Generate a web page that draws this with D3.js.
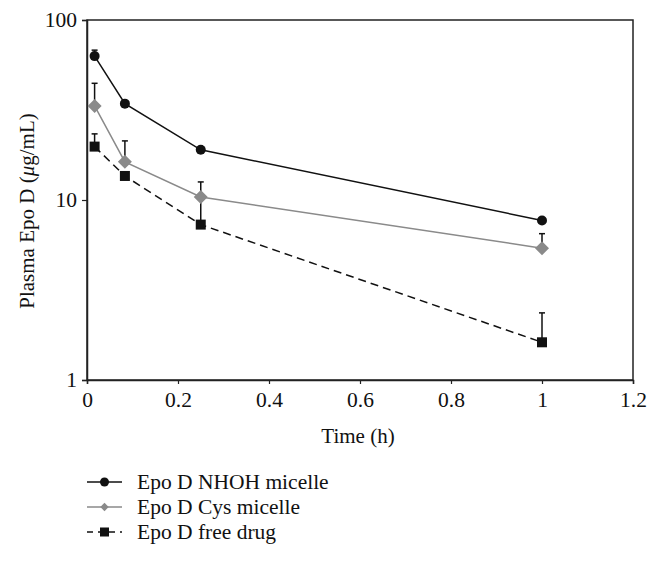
<!DOCTYPE html>
<html>
<head>
<meta charset="utf-8">
<script src="https://cdn.jsdelivr.net/npm/d3@7"></script>
<style>
  body { margin:0; background:#fff; }
  svg text { font-family: "Liberation Serif", "DejaVu Serif", serif; fill:#111; }
</style>
</head>
<body>
<svg id="chart" width="661" height="561"></svg>
<script>
const times    = [0.0167, 0.0833, 0.25, 1];
const nhoh     = [63, 34.3, 19.0, 7.7];
const nhohErr  = [68, 34.3, 19.0, 7.7];
const cys      = [33.3, 16.3, 10.4, 5.4];
const cysErr   = [44.5, 21.3, 12.6, 6.5];
const free     = [19.8, 13.6, 7.3, 1.62];
const freeErr  = [23.3, 13.6, 10.4, 2.36];
const xTicks   = [0, 0.2, 0.4, 0.6, 0.8, 1, 1.2];
const yTicks   = [1, 10, 100];

const series = [
  { name: "Epo D NHOH micelle", vals: nhoh, err: nhohErr, color: "#111", dash: null, shape: "circle" },
  { name: "Epo D Cys micelle",  vals: cys,  err: cysErr,  color: "#8a8a8a", dash: null, shape: "diamond" },
  { name: "Epo D free drug",    vals: free, err: freeErr, color: "#111", dash: "8,5", shape: "square" }
];

const M = { top:20, right:28, bottom:181, left:87 };
const W = 661, H = 561;
const FONT = '"Liberation Serif", "DejaVu Serif", serif';
const svg = d3.select('#chart');

const x = d3.scaleLinear().domain([0, 1.2]).range([M.left, W - M.right]);
const y = d3.scaleLog().domain([1, 100]).range([H - M.bottom, M.top]);

// frame
svg.append('rect')
  .attr('x', M.left).attr('y', M.top)
  .attr('width', x(1.2) - x(0)).attr('height', y(1) - y(100))
  .attr('fill', 'none').attr('stroke', '#222').attr('stroke-width', 1.5);

// axes
const xAxis = svg.append('g')
  .attr('transform', `translate(0,${y(1)})`)
  .call(d3.axisBottom(x).tickValues(xTicks).tickSize(4).tickPadding(8).tickFormat(d3.format('~g')));
const yAxis = svg.append('g')
  .attr('transform', `translate(${M.left},0)`)
  .call(d3.axisLeft(y).tickValues(yTicks).tickSize(5).tickPadding(5).tickFormat(d3.format('~g')));
[xAxis, yAxis].forEach(a => {
  a.attr('font-family', FONT).attr('font-size', 21);
  a.select('.domain').attr('stroke', '#222').attr('stroke-width', 1.5);
  a.selectAll('.tick line').attr('stroke', '#222').attr('stroke-width', 1.2);
  a.selectAll('.tick text').style('font-family', FONT).style('font-size', '21.5px').attr('fill', '#111');
});

// axis titles
svg.append('text')
  .attr('x', 358).attr('y', 443)
  .attr('text-anchor', 'middle').style('font-size', '21px')
  .text('Time (h)');

const yt = svg.append('text')
  .attr('transform', `translate(34,211) rotate(-90)`)
  .attr('text-anchor', 'middle').style('font-size', '21px');
yt.append('tspan').text('Plasma Epo D (');
yt.append('tspan').style('font-style', 'italic').text('μ');
yt.append('tspan').text('g/mL)');

const line = d3.line().x((d, i) => x(times[i])).y(d => y(d));

function drawMarker(g, shape, color, cx, cy, s) {
  if (shape === 'circle') {
    g.append('circle').attr('cx', cx).attr('cy', cy).attr('r', 5 * s).attr('fill', color);
  } else if (shape === 'diamond') {
    const r = 7 * s;
    g.append('path').attr('d', `M${cx},${cy - r}L${cx + r},${cy}L${cx},${cy + r}L${cx - r},${cy}Z`).attr('fill', color);
  } else {
    const h = 5 * s;
    g.append('rect').attr('x', cx - h).attr('y', cy - h).attr('width', 2 * h).attr('height', 2 * h).attr('fill', color);
  }
}

// error bars first, then lines and markers
series.forEach(s => {
  const g = svg.append('g');
  s.vals.forEach((v, i) => {
    if (s.err[i] <= v) return;
    const cx = x(times[i]);
    g.append('line').attr('x1', cx).attr('x2', cx).attr('y1', y(v)).attr('y2', y(s.err[i]))
      .attr('stroke', '#111').attr('stroke-width', 1.5);
    g.append('line').attr('x1', cx - 3).attr('x2', cx + 3).attr('y1', y(s.err[i])).attr('y2', y(s.err[i]))
      .attr('stroke', '#111').attr('stroke-width', 1.5);
  });
});

series.slice().reverse().forEach(s => {
  const g = svg.append('g');
  g.append('path').datum(s.vals)
    .attr('d', line).attr('fill', 'none')
    .attr('stroke', s.color).attr('stroke-width', 1.5)
    .attr('stroke-dasharray', s.dash);
  s.vals.forEach((v, i) => drawMarker(g, s.shape, s.color, x(times[i]), y(v), 1));
});

// legend
const lg = svg.append('g').attr('transform', 'translate(87,482)');
series.forEach((s, i) => {
  const row = lg.append('g').attr('transform', `translate(0,${i * 25})`);
  row.append('line').attr('x1', 0).attr('x2', 35).attr('y1', 0).attr('y2', 0)
    .attr('stroke', s.color).attr('stroke-width', 1.5).attr('stroke-dasharray', s.dash ? '6,5' : null);
  drawMarker(row, s.shape, s.color, 17.5, 0, s.shape === 'diamond' ? 0.6 : 0.9);
  row.append('text').attr('x', 50).attr('y', 0).attr('dy', '0.32em')
    .style('font-size', '21.5px').text(s.name);
});
</script>
</body>
</html>
